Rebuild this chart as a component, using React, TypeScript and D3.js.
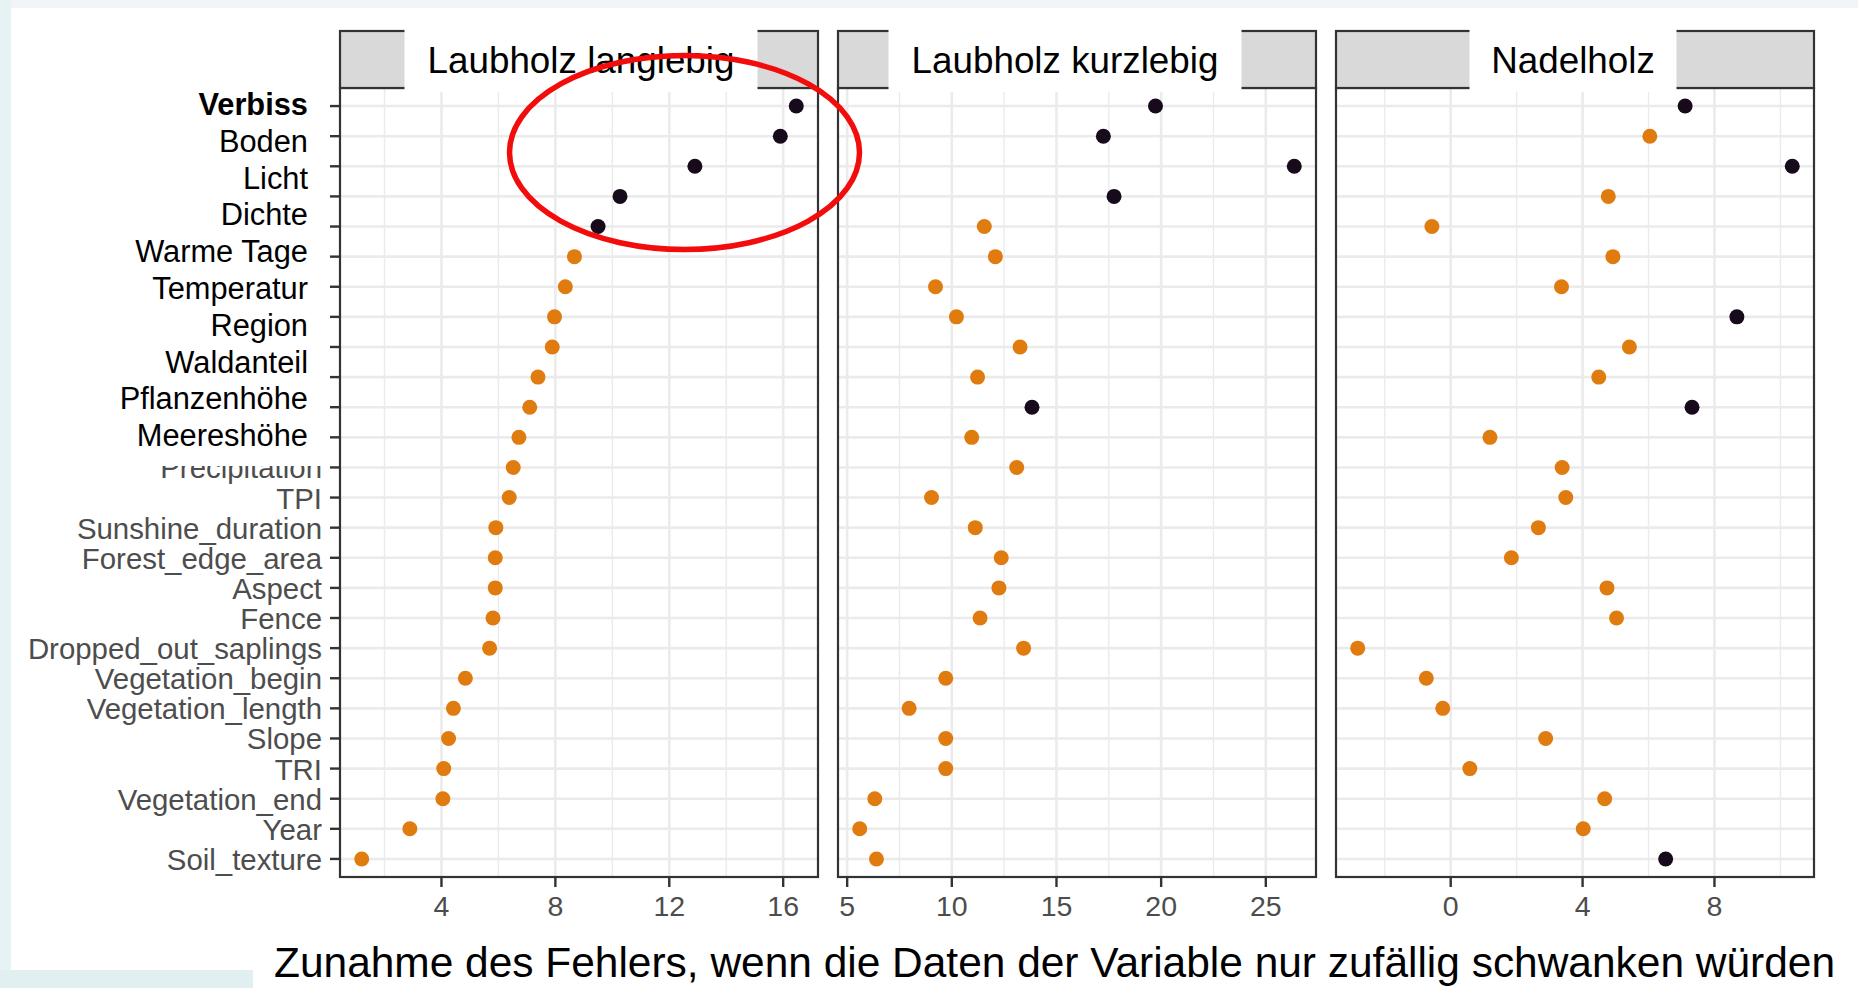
import React from "react";
import * as d3 from "d3";

// ---------- data ----------
const facetNames = ["Laubholz langlebig", "Laubholz kurzlebig", "Nadelholz"];

// German labels written over the top of the axis (slide overlay)
const germanLabels = [
  "Verbiss", "Boden", "Licht", "Dichte", "Warme Tage",
  "Temperatur", "Region", "Waldanteil", "Pflanzenhöhe", "Meereshöhe",
];

// Original English axis labels, top to bottom (first 12 are covered by the overlay)
const englishLabels = [
  "", "", "", "", "", "", "", "", "", "", "", "",
  "Precipitation", "TPI", "Sunshine_duration", "Forest_edge_area", "Aspect", "Fence",
  "Dropped_out_saplings", "Vegetation_begin", "Vegetation_length", "Slope", "TRI",
  "Vegetation_end", "Year", "Soil_texture",
];

const valuesLanglebig = [
  16.46, 15.9, 12.9, 10.27, 9.5, 8.67, 8.35, 7.97, 7.89, 7.39, 7.1, 6.72, 6.52,
  6.38, 5.91, 5.89, 5.89, 5.81, 5.69, 4.84, 4.42, 4.25, 4.08, 4.05, 2.89, 1.2,
];
const valuesKurzlebig = [
  19.73, 17.24, 26.36, 17.75, 11.55, 12.08, 9.22, 10.22, 13.26, 11.23, 13.83, 10.95, 13.1,
  9.03, 11.12, 12.36, 12.25, 11.35, 13.43, 9.71, 7.96, 9.71, 9.71, 6.32, 5.6, 6.4,
];
const valuesNadelholz = [
  7.11, 6.04, 10.36, 4.78, -0.57, 4.92, 3.36, 8.68, 5.42, 4.49, 7.32, 1.19, 3.38,
  3.49, 2.66, 1.84, 4.74, 5.03, -2.82, -0.74, -0.24, 2.88, 0.58, 4.67, 4.02, 6.52,
];

// 1 = dark (significant), 0 = orange
const darkLanglebig = [1,1,1,1,1,0,0,0,0,0,0,0,0,0,0,0,0,0,0,0,0,0,0,0,0,0];
const darkKurzlebig = [1,1,1,1,0,0,0,0,0,0,1,0,0,0,0,0,0,0,0,0,0,0,0,0,0,0];
const darkNadelholz = [1,0,1,0,0,0,0,1,0,0,1,0,0,0,0,0,0,0,0,0,0,0,0,0,0,1];

const ticksLanglebig = [4, 8, 12, 16];
const ticksKurzlebig = [5, 10, 15, 20, 25];
const ticksNadelholz = [0, 4, 8];

const axisTitle =
  "Zunahme des Fehlers, wenn die Daten der Variable nur zufällig schwanken würden";

// ---------- styles ----------
const FONT = '"Liberation Sans", Arial, Helvetica, sans-serif';
const DARK = "#170b1b";
const ORANGE = "#e07b10";
const GRID = "#ebebeb";
const BORDER = "#333333";
const STRIP = "#d9d9d9";
const AXIS_TEXT = "#4d4d4d";

export default function App() {
  const W = 1858;
  const H = 988;
  const panelX0 = 340;
  const panelW = 478;
  const gap = 20;
  const stripTop = 31;
  const plotTop = 88;
  const plotBottom = 877;

  const n = englishLabels.length;
  const y = d3
    .scalePoint<number>()
    .domain(d3.range(n))
    .range([plotTop, plotBottom])
    .padding(0.6);

  const series = [valuesLanglebig, valuesKurzlebig, valuesNadelholz];
  const darks = [darkLanglebig, darkKurzlebig, darkNadelholz];
  const ticks = [ticksLanglebig, ticksKurzlebig, ticksNadelholz];
  const labelShift = [2, -12, -2];
  const boxWidths = [353, 353, 207];

  const panels = series.map((vals, i) => {
    const x0 = panelX0 + i * (panelW + gap);
    const [mn, mx] = d3.extent(vals) as [number, number];
    const pad = (mx - mn) * 0.05;
    const x = d3.scaleLinear().domain([mn - pad, mx + pad]).range([x0, x0 + panelW]);
    const t = ticks[i];
    const step = t[1] - t[0];
    const minors = [t[0] - step / 2, ...t.map((v) => v + step / 2)].filter(
      (v) => v >= x.domain()[0] && v <= x.domain()[1]
    );
    return { x0, x, vals, dark: darks[i], ticks: t, minors, name: facetNames[i], i };
  });

  return (
    <svg
      width={W}
      height={H}
      style={{ position: "absolute", left: 0, top: 0, display: "block" }}
      fontFamily={FONT}
    >
      {/* slide background */}
      <rect x={0} y={0} width={W} height={H} fill="#ffffff" />
      <rect x={0} y={0} width={W} height={8} fill="#eff5f8" />
      <rect x={0} y={0} width={11} height={H} fill="#e7f2f4" />
      <rect x={0} y={970} width={253} height={18} fill="#e1eff1" />

      {panels.map((p) => (
        <g key={p.name}>
          {/* horizontal grid */}
          {d3.range(n).map((r) => (
            <line
              key={"h" + r}
              x1={p.x0}
              x2={p.x0 + panelW}
              y1={y(r)}
              y2={y(r)}
              stroke={GRID}
              strokeWidth={2.6}
            />
          ))}
          {/* minor vertical grid */}
          {p.minors.map((v) => (
            <line
              key={"m" + v}
              x1={p.x(v)}
              x2={p.x(v)}
              y1={plotTop}
              y2={plotBottom}
              stroke={GRID}
              strokeWidth={1.4}
            />
          ))}
          {/* major vertical grid */}
          {p.ticks.map((v) => (
            <line
              key={"M" + v}
              x1={p.x(v)}
              x2={p.x(v)}
              y1={plotTop}
              y2={plotBottom}
              stroke={GRID}
              strokeWidth={2.6}
            />
          ))}
          {/* points */}
          {p.vals.map((v, r) => (
            <circle
              key={"c" + r}
              cx={p.x(v)}
              cy={y(r)}
              r={7.5}
              fill={p.dark[r] ? DARK : ORANGE}
            />
          ))}
          {/* panel border */}
          <rect
            x={p.x0}
            y={plotTop}
            width={panelW}
            height={plotBottom - plotTop}
            fill="none"
            stroke={BORDER}
            strokeWidth={2.2}
          />
          {/* strip */}
          <rect
            x={p.x0}
            y={stripTop}
            width={panelW}
            height={plotTop - stripTop}
            fill={STRIP}
            stroke={BORDER}
            strokeWidth={2.2}
          />
          {/* bottom axis */}
          {p.ticks.map((v) => (
            <g key={"t" + v}>
              <line
                x1={p.x(v)}
                x2={p.x(v)}
                y1={plotBottom}
                y2={plotBottom + 10}
                stroke={BORDER}
                strokeWidth={2.4}
              />
              <text
                x={p.x(v)}
                y={916}
                textAnchor="middle"
                fontSize={28.5}
                fill={AXIS_TEXT}
              >
                {v}
              </text>
            </g>
          ))}
          {/* strip label on white box (slide overlay) */}
          <rect
            x={p.x0 + panelW / 2 + labelShift[p.i] - boxWidths[p.i] / 2}
            y={29}
            width={boxWidths[p.i]}
            height={63}
            fill="#ffffff"
          />
          <text
            x={p.x0 + panelW / 2 + labelShift[p.i]}
            y={73}
            textAnchor="middle"
            fontSize={36.8}
            fill="#000000"
          >
            {p.name}
          </text>
        </g>
      ))}

      {/* y axis ticks and original labels */}
      {d3.range(n).map((r) => (
        <g key={"y" + r}>
          <line
            x1={panelX0 - 10}
            x2={panelX0}
            y1={y(r)}
            y2={y(r)}
            stroke={BORDER}
            strokeWidth={2.4}
          />
          {englishLabels[r] ? (
            <text
              x={322}
              y={(y(r) as number) + 11}
              textAnchor="end"
              fontSize={29.4}
              fill={AXIS_TEXT}
            >
              {englishLabels[r]}
            </text>
          ) : null}
        </g>
      ))}

      {/* overlay box with German labels */}
      <rect x={12} y={88} width={315} height={378} fill="#ffffff" />
      {germanLabels.map((lab, i) => (
        <text
          key={lab}
          x={308}
          y={115 + i * 36.8}
          textAnchor="end"
          fontSize={30.8}
          fontWeight={i === 0 ? "bold" : "normal"}
          fill="#000000"
        >
          {lab}
        </text>
      ))}

      {/* x axis title */}
      <text x={274} y={977} fontSize={42} fill="#000000" textLength={1561} lengthAdjust="spacingAndGlyphs">
        {axisTitle}
      </text>

      {/* red highlight ellipse */}
      <ellipse
        cx={684.5}
        cy={152.5}
        rx={175}
        ry={97}
        fill="none"
        stroke="#f20c0c"
        strokeWidth={5.5}
      />
    </svg>
  );
}
